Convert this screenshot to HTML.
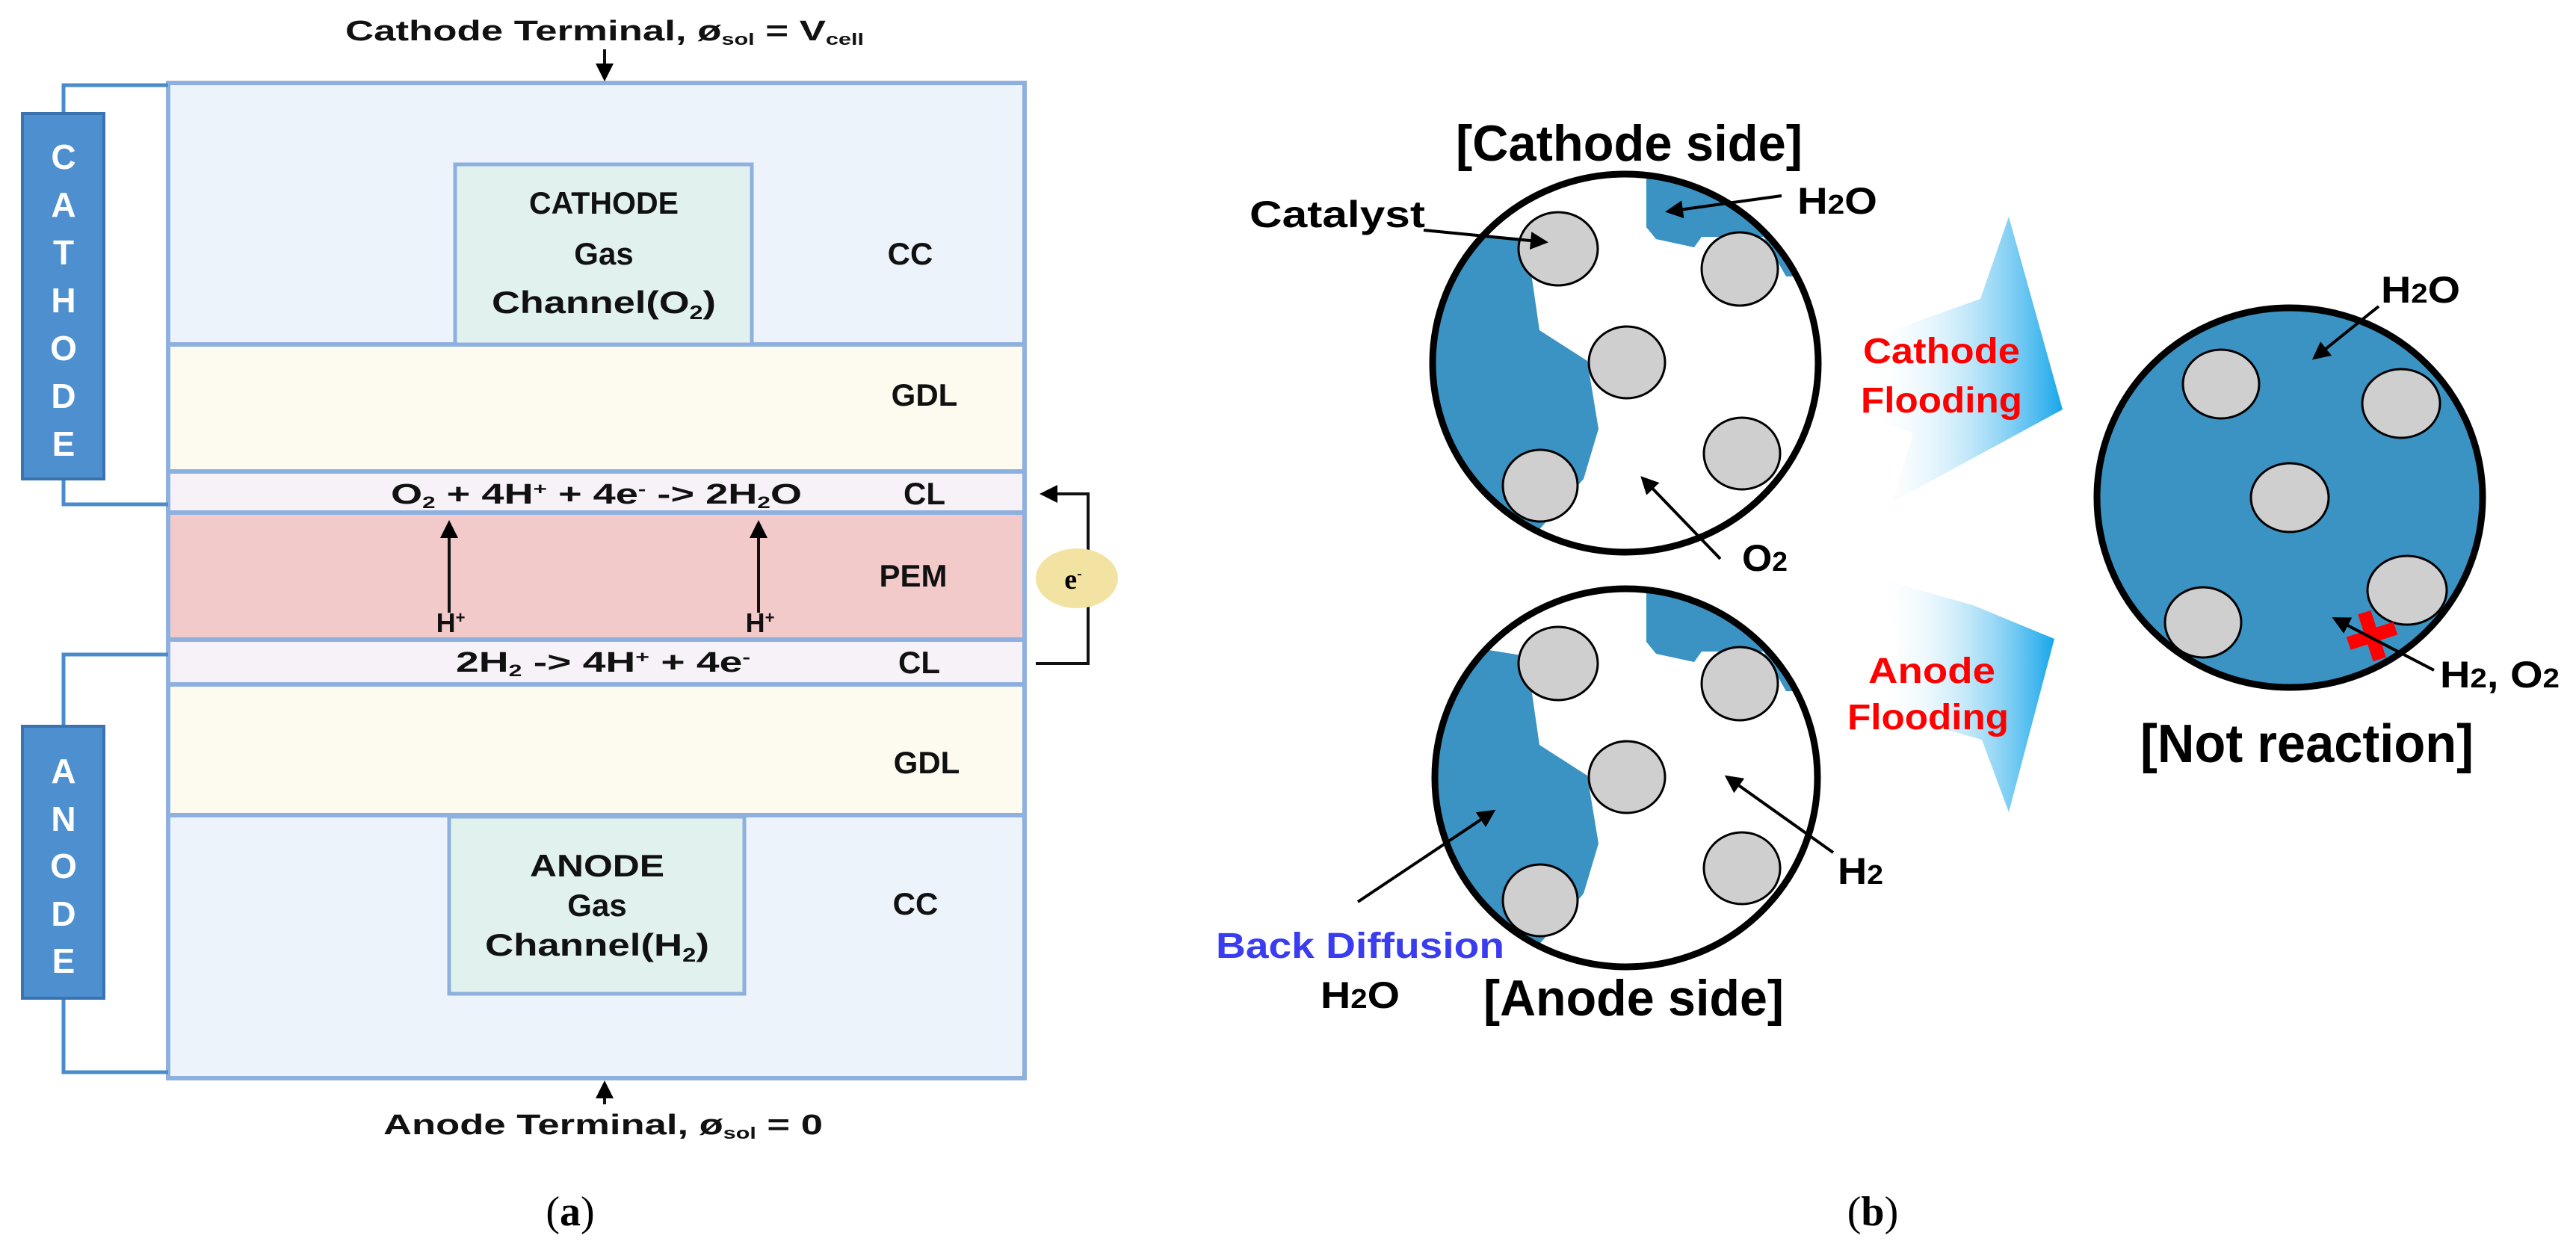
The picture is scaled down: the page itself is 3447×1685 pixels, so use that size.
<!DOCTYPE html>
<html><head><meta charset="utf-8"><style>html,body{margin:0;padding:0;background:#fff}svg{display:block}</style></head><body>
<svg width="3447" height="1685" viewBox="0 0 3447 1685" xmlns="http://www.w3.org/2000/svg" font-family="Liberation Sans, sans-serif">
<defs>
<marker id="ah" markerWidth="6" markerHeight="6" refX="5" refY="3" orient="auto" markerUnits="strokeWidth"><path d="M0,0 L6,3 L0,6 Z" fill="#000"/></marker>
<linearGradient id="g1" x1="0" y1="0" x2="1" y2="0"><stop offset="0" stop-color="#fff" stop-opacity="0"/><stop offset="1" stop-color="#16a6ea"/></linearGradient>
<clipPath id="c1"><ellipse cx="2175" cy="486" rx="258" ry="253"/></clipPath>
<clipPath id="c2"><ellipse cx="2176" cy="1041" rx="256" ry="253"/></clipPath>
</defs>

<!-- LEFT PANEL -->
<rect x="225" y="111" width="1146" height="350" fill="#edf3fb"/>
<rect x="225" y="461" width="1146" height="170" fill="#fdfbf0"/>
<rect x="225" y="631" width="1146" height="55" fill="#f7f1f8"/>
<rect x="225" y="686" width="1146" height="170" fill="#f3caca"/>
<rect x="225" y="856" width="1146" height="60" fill="#f7f1f8"/>
<rect x="225" y="916" width="1146" height="175" fill="#fdfbf0"/>
<rect x="225" y="1091" width="1146" height="352" fill="#edf3fb"/>
<g stroke="#8eb0de" stroke-width="6" fill="none">
<rect x="225" y="111" width="1146" height="1332"/>
<line x1="225" y1="461" x2="1371" y2="461"/><line x1="225" y1="631" x2="1371" y2="631"/>
<line x1="225" y1="686" x2="1371" y2="686"/><line x1="225" y1="856" x2="1371" y2="856"/>
<line x1="225" y1="916" x2="1371" y2="916"/><line x1="225" y1="1091" x2="1371" y2="1091"/>
</g>
<rect x="609" y="220" width="397" height="241" fill="#e1f2ee" stroke="#8eb0de" stroke-width="5"/>
<rect x="601" y="1093" width="395" height="237" fill="#e1f2ee" stroke="#8eb0de" stroke-width="5"/>

<g font-weight="bold" fill="#111" text-anchor="middle" font-size="42">
<text x="808" y="286" textLength="200" lengthAdjust="spacingAndGlyphs">CATHODE</text><text x="808" y="354">Gas</text>
<text x="808" y="419" textLength="300" lengthAdjust="spacingAndGlyphs">Channel(O<tspan font-size="26" dy="8">2</tspan><tspan dy="-8">)</tspan></text>
<text x="799" y="1173" textLength="180" lengthAdjust="spacingAndGlyphs">ANODE</text><text x="799" y="1226">Gas</text>
<text x="799" y="1279" textLength="300" lengthAdjust="spacingAndGlyphs">Channel(H<tspan font-size="26" dy="8">2</tspan><tspan dy="-8">)</tspan></text>
<text x="1218" y="354">CC</text><text x="1237" y="543">GDL</text><text x="1237" y="675">CL</text>
<text x="1222" y="785">PEM</text><text x="1230" y="901">CL</text><text x="1240" y="1035">GDL</text><text x="1225" y="1224">CC</text>
<text x="809" y="54" font-size="38" textLength="694" lengthAdjust="spacingAndGlyphs">Cathode Terminal, ø<tspan font-size="22" dy="6">sol</tspan><tspan dy="-6"> = V</tspan><tspan font-size="22" dy="6">cell</tspan></text>
<text x="807" y="1518" font-size="38" textLength="588" lengthAdjust="spacingAndGlyphs">Anode Terminal, ø<tspan font-size="22" dy="6">sol</tspan><tspan dy="-6"> = 0</tspan></text>
<text x="798" y="674" font-size="38" textLength="550" lengthAdjust="spacingAndGlyphs">O<tspan font-size="22" dy="6">2</tspan><tspan dy="-6"> + 4H</tspan><tspan font-size="22" dy="-12">+</tspan><tspan dy="12"> + 4e</tspan><tspan font-size="22" dy="-12">-</tspan><tspan dy="12"> -&gt; 2H</tspan><tspan font-size="22" dy="6">2</tspan><tspan dy="-6">O</tspan></text>
<text x="807" y="899" font-size="38" textLength="394" lengthAdjust="spacingAndGlyphs">2H<tspan font-size="22" dy="6">2</tspan><tspan dy="-6"> -&gt; 4H</tspan><tspan font-size="22" dy="-12">+</tspan><tspan dy="12"> + 4e</tspan><tspan font-size="22" dy="-12">-</tspan></text>
<text x="603" y="846" font-size="36">H<tspan font-size="22" dy="-12">+</tspan></text>
<text x="1017" y="846" font-size="36">H<tspan font-size="22" dy="-12">+</tspan></text>
</g>
<g stroke="#111" stroke-width="4" fill="none">
<line x1="601" y1="820" x2="601" y2="700" marker-end="url(#ah)"/>
<line x1="1015" y1="820" x2="1015" y2="700" marker-end="url(#ah)"/>
<line x1="809" y1="66" x2="809" y2="105" marker-end="url(#ah)"/>
<line x1="809" y1="1478" x2="809" y2="1450" marker-end="url(#ah)"/>
<polyline points="1386,888 1456,888 1456,661 1395,661" marker-end="url(#ah)"/>
</g>
<ellipse cx="1441" cy="774" rx="55" ry="40" fill="#f3e3a2"/>
<text x="1436" y="788" font-family="Liberation Serif, serif" font-weight="bold" font-size="38" text-anchor="middle">e<tspan font-size="20" dy="-14">-</tspan></text>

<!-- side bars -->
<g stroke="#4a8ccb" stroke-width="5" fill="none">
<polyline points="225,114 85,114 85,152"/><polyline points="85,641 85,675 225,675"/>
<polyline points="225,876 85,876 85,972"/><polyline points="85,1336 85,1435 225,1435"/>
</g>
<rect x="30" y="152" width="109" height="489" fill="#4d8fcf" stroke="#3a74b0" stroke-width="4"/>
<rect x="30" y="972" width="109" height="364" fill="#4d8fcf" stroke="#3a74b0" stroke-width="4"/>
<g fill="#fff" font-weight="bold" font-size="46" text-anchor="middle">
<text x="85" y="226">C</text><text x="85" y="290">A</text><text x="85" y="354">T</text><text x="85" y="418">H</text><text x="85" y="482">O</text><text x="85" y="546">D</text><text x="85" y="610">E</text>
<text x="85" y="1048">A</text><text x="85" y="1112">N</text><text x="85" y="1175">O</text><text x="85" y="1239">D</text><text x="85" y="1302">E</text>
</g>
<text x="763" y="1640" font-family="Liberation Serif, serif" font-size="56" text-anchor="middle">(<tspan font-weight="bold">a</tspan>)</text>
<text x="2506" y="1640" font-family="Liberation Serif, serif" font-size="56" text-anchor="middle">(<tspan font-weight="bold">b</tspan>)</text>

<!-- RIGHT PANEL -->
<polygon points="2510,450 2650,400 2688,290 2760,548 2532,672 2560,580 2500,560" fill="url(#g1)"/>
<polygon points="2520,776 2640,810 2749,855 2688,1087 2652,990 2510,950 2540,880" fill="url(#g1)"/>
<g fill="#f00" font-weight="bold" font-size="48" text-anchor="middle">
<text x="2598" y="486" textLength="210" lengthAdjust="spacingAndGlyphs">Cathode</text><text x="2598" y="552" textLength="216" lengthAdjust="spacingAndGlyphs">Flooding</text>
<text x="2585" y="914" textLength="170" lengthAdjust="spacingAndGlyphs">Anode</text><text x="2580" y="976" textLength="216" lengthAdjust="spacingAndGlyphs">Flooding</text>
</g>

<ellipse cx="2175" cy="486" rx="258" ry="253" fill="#fff"/>
<g clip-path="url(#c1)" fill="#3a93c3">
<polygon points="1900,300 2035,322 2050,373 2060,442 2124,483 2139,574 2119,641 2050,720 1900,720"/>
<polygon points="2203,200 2203,304 2216,320 2267,331 2277,317 2360,317 2390,370 2460,370 2460,200"/>
</g>
<ellipse cx="2175" cy="486" rx="258" ry="253" fill="none" stroke="#000" stroke-width="9"/>
<g fill="#d0cfd0" stroke="#000" stroke-width="3">
<ellipse cx="2085" cy="333" rx="53" ry="49"/><ellipse cx="2328" cy="360" rx="51" ry="49"/><ellipse cx="2177" cy="485" rx="51" ry="48"/><ellipse cx="2331" cy="607" rx="51" ry="48"/><ellipse cx="2061" cy="650" rx="50" ry="48"/>
</g>
<ellipse cx="2176" cy="1041" rx="256" ry="253" fill="#fff"/>
<g clip-path="url(#c2)" fill="#3a93c3">
<polygon points="1900,855 2035,877 2050,928 2060,997 2124,1038 2139,1129 2119,1196 2050,1275 1900,1275"/>
<polygon points="2203,755 2203,859 2216,875 2267,886 2277,872 2360,872 2390,925 2460,925 2460,755"/>
</g>
<ellipse cx="2176" cy="1041" rx="256" ry="253" fill="none" stroke="#000" stroke-width="9"/>
<g fill="#d0cfd0" stroke="#000" stroke-width="3">
<ellipse cx="2085" cy="888" rx="53" ry="49"/><ellipse cx="2328" cy="915" rx="51" ry="49"/><ellipse cx="2177" cy="1040" rx="51" ry="48"/><ellipse cx="2331" cy="1162" rx="51" ry="48"/><ellipse cx="2061" cy="1205" rx="50" ry="48"/>
</g>
<ellipse cx="3064" cy="666" rx="258" ry="254" fill="#3a93c3" stroke="#000" stroke-width="9"/>
<g fill="#d0cfd0" stroke="#000" stroke-width="3">
<ellipse cx="2972" cy="514" rx="51" ry="46"/><ellipse cx="3213" cy="540" rx="52" ry="46"/><ellipse cx="3064" cy="666" rx="52" ry="46"/><ellipse cx="3221" cy="790" rx="53" ry="46"/><ellipse cx="2948" cy="833" rx="51" ry="47"/>
</g>
<g transform="translate(3174,851) rotate(-18)" fill="#f00"><rect x="-33" y="-9" width="66" height="18"/><rect x="-9" y="-33" width="18" height="66"/></g>

<g stroke="#000" stroke-width="4" fill="none">
<polyline points="1905,308 2068,324" marker-end="url(#ah)"/>
<line x1="2384" y1="262" x2="2232" y2="283" marker-end="url(#ah)"/>
<line x1="2302" y1="748" x2="2198" y2="640" marker-end="url(#ah)"/>
<line x1="2453" y1="1141" x2="2311" y2="1040" marker-end="url(#ah)"/>
<line x1="1817" y1="1207" x2="1998" y2="1086" marker-end="url(#ah)"/>
<line x1="3183" y1="410" x2="3097" y2="479" marker-end="url(#ah)"/>
<line x1="3257" y1="897" x2="3124" y2="828" marker-end="url(#ah)"/>
</g>
<g font-weight="bold" fill="#000" font-size="50">
<text x="1672" y="304" textLength="235" lengthAdjust="spacingAndGlyphs">Catalyst</text>
<text x="2405" y="286" textLength="107" lengthAdjust="spacingAndGlyphs">H<tspan font-size="36">2</tspan>O</text>
<text x="2331" y="764" textLength="61" lengthAdjust="spacingAndGlyphs">O<tspan font-size="36">2</tspan></text>
<text x="2459" y="1183" textLength="61" lengthAdjust="spacingAndGlyphs">H<tspan font-size="36">2</tspan></text>
<text x="1767" y="1349" textLength="106" lengthAdjust="spacingAndGlyphs">H<tspan font-size="36">2</tspan>O</text>
<text x="3186" y="405" textLength="106" lengthAdjust="spacingAndGlyphs">H<tspan font-size="36">2</tspan>O</text>
<text x="3265" y="920" textLength="160" lengthAdjust="spacingAndGlyphs">H<tspan font-size="36">2</tspan>, O<tspan font-size="36">2</tspan></text>
<text x="1627" y="1282" font-size="48" fill="#3a3cf0" textLength="386" lengthAdjust="spacingAndGlyphs">Back Diffusion</text>
<text x="1948" y="215" font-size="68" textLength="464" lengthAdjust="spacingAndGlyphs">[Cathode side]</text>
<text x="1985" y="1359" font-size="68" textLength="402" lengthAdjust="spacingAndGlyphs">[Anode side]</text>
<text x="2864" y="1020" font-size="72" textLength="446" lengthAdjust="spacingAndGlyphs">[Not reaction]</text>
</g>
</svg>
</body></html>
